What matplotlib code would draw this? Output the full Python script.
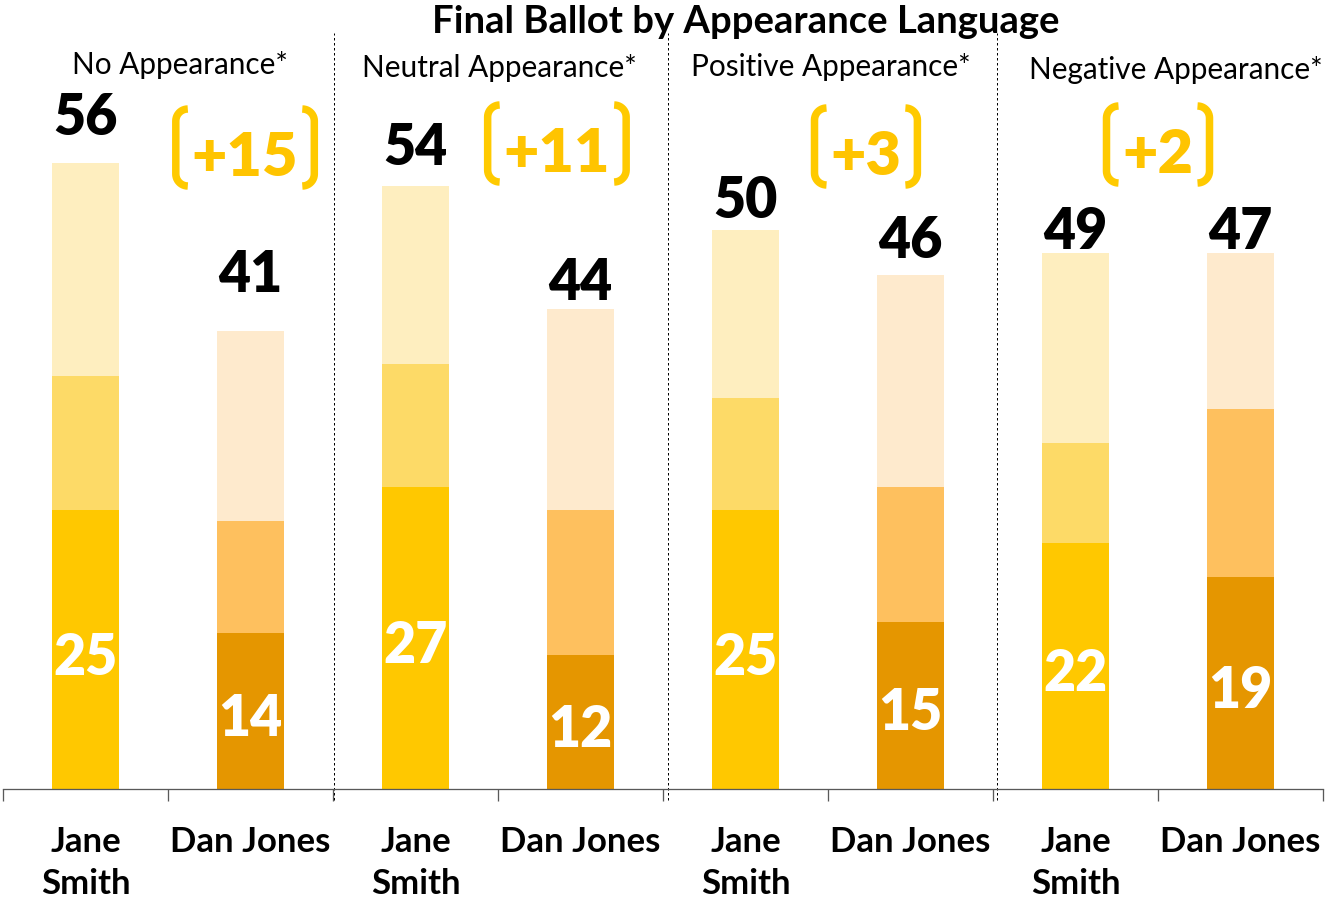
import matplotlib
matplotlib.use("Agg")
import matplotlib.pyplot as plt
from matplotlib.transforms import blended_transform_factory
from matplotlib.lines import Line2D
import numpy as np

# ---------------- data ----------------
groups = ["No Appearance*", "Neutral Appearance*", "Positive Appearance*", "Negative Appearance*"]
candidates = ["Jane\nSmith", "Dan Jones"]
jane_base = [25, 27, 25, 22]
jane_mid = [12, 11, 10, 9]
jane_top = [19, 16, 15, 17]
dan_base = [14, 12, 15, 19]
dan_mid = [10, 13, 12, 15]
dan_top = [17, 18, 19, 14]
jane_totals = [56, 54, 50, 49]
dan_totals = [41, 44, 46, 47]
margins = ["+15", "+11", "+3", "+2"]

# ---------------- style / layout ----------------
FONT = "Lato"
plt.rcParams['font.family'] = [FONT, 'DejaVu Sans']
HEAVY = 'heavy'
jane_colors = ["#FFC800", "#FDDA67", "#FEEEBF"]
dan_colors = ["#E59600", "#FEC05E", "#FEEACD"]
gold = "#FFC400"
bracket_col = "#FFCA00"

DPI = 100
W, H = 1325, 901
PT = 72 / DPI            # points per pixel
base_px = 789.3          # baseline of bars, px from top
ppu = 11.18              # pixels per unit
bar_w = 0.406

fig = plt.figure(figsize=(W / DPI, H / DPI), dpi=DPI)
ax = fig.add_axes([3 / W, (H - base_px) / H, 1320 / W, base_px / H])
ax.set_xlim(-0.5, 7.5)
ax.set_ylim(0, base_px / ppu)

n = len(groups)
xs = np.arange(2 * n)
base = np.ravel(np.column_stack([jane_base, dan_base]))
mid = np.ravel(np.column_stack([jane_mid, dan_mid]))
top = np.ravel(np.column_stack([jane_top, dan_top]))
totals = np.ravel(np.column_stack([jane_totals, dan_totals]))
cols = [jane_colors if i % 2 == 0 else dan_colors for i in xs]

ax.bar(xs, base, bar_w, color=[c[0] for c in cols], linewidth=0)
ax.bar(xs, mid, bar_w, bottom=base, color=[c[1] for c in cols], linewidth=0)
ax.bar(xs, top, bar_w, bottom=base + mid, color=[c[2] for c in cols], linewidth=0)

# value labels in the base segments
for x, b in zip(xs, base):
    ax.annotate(str(b), (x, b / 2), xytext=(0, -25 * PT), textcoords='offset points',
                ha='center', va='baseline', color='white', fontsize=40, fontweight=HEAVY)

# total labels above bars (gap in px between bar top and digits baseline)
total_gap_px = [28, 39, 21, 9, 12, 17, 4, 4]
for x, hgt, t, g in zip(xs, base + mid + top, totals, total_gap_px):
    ax.annotate(str(t), (x, hgt), xytext=(0, g * PT), textcoords='offset points',
                ha='center', va='baseline', color='black', fontsize=40, fontweight=HEAVY)

# axis styling
for s in ['top', 'left', 'right']:
    ax.spines[s].set_visible(False)
ax.spines['bottom'].set_color('#595959')
ax.spines['bottom'].set_linewidth(1.3 * PT)
ax.set_yticks([])
ax.set_xticks(np.arange(-0.5, 2 * n, 1))
ax.tick_params(axis='x', which='major', length=12 * PT, width=1.3 * PT, color='#595959',
               labelbottom=False)
ax.set_xticks(xs, minor=True)
ax.set_xticklabels(candidates * n, minor=True, fontsize=25, fontweight='bold',
                   linespacing=1.38)
ax.tick_params(axis='x', which='minor', length=0, pad=37 * PT)

# dotted separators
sep_x = [1.506, 3.528, 5.526]
ax.vlines(sep_x, -11 / ppu, (base_px - 33) / ppu, colors='black',
          linestyles=(0, (2.5, 2.5)), linewidth=1.0 * PT, clip_on=False)

# group titles
bt = blended_transform_factory(ax.transData, fig.transFigure)
title_x = [0.57, 2.51, 4.52, 6.61]
title_base_px = [74, 77, 76, 79]
for g, tx, ty in zip(groups, title_x, title_base_px):
    ax.text(tx, 1 - ty / H, g, transform=bt, ha='center', va='baseline', fontsize=21.4)

# chart title
fig.text(745.5 / W, 1 - 33 / H, "Final Ballot by Appearance Language", ha='center',
         va='baseline', fontsize=27.5, fontweight='bold')

# margin labels with brackets
margin_x = [0.967, 2.857, 4.73, 6.5]
margin_base_px = [176, 172, 175, 173]
mtexts = []
for m, mx, my in zip(margins, margin_x, margin_base_px):
    t = ax.text(mx, 1 - my / H, m, transform=bt, ha='center', va='baseline',
                fontsize=44, fontweight=HEAVY, color=gold)
    mtexts.append((t, my))

fig.canvas.draw()
renderer = fig.canvas.get_renderer()


def bracket(xv, ytop, ybot, side, r=12):
    # coordinates in px, y measured from top; side=+1 left bracket, -1 right bracket
    a1 = np.linspace(np.pi / 2, np.pi, 12)
    a2 = np.linspace(np.pi, 3 * np.pi / 2, 12)
    cx = xv + side * r
    px_ = np.concatenate([cx + side * r * np.cos(a1), cx + side * r * np.cos(a2)])
    yt_up, yb_up = H - ytop, H - ybot
    py_ = np.concatenate([yt_up - r + r * np.sin(a1), yb_up + r + r * np.sin(a2)])
    fig.add_artist(Line2D(px_ / W, py_ / H, transform=fig.transFigure, color=bracket_col,
                          linewidth=7.5 * PT, solid_capstyle='butt', solid_joinstyle='round'))


for t, my in mtexts:
    bb = t.get_window_extent(renderer)
    pad = 16
    ytop = my - 45 - 22
    ybot = my + 10
    bracket(bb.x0 - pad, ytop, ybot, +1)
    bracket(bb.x1 + pad, ytop, ybot, -1)

fig.savefig("out.png", dpi=DPI)
